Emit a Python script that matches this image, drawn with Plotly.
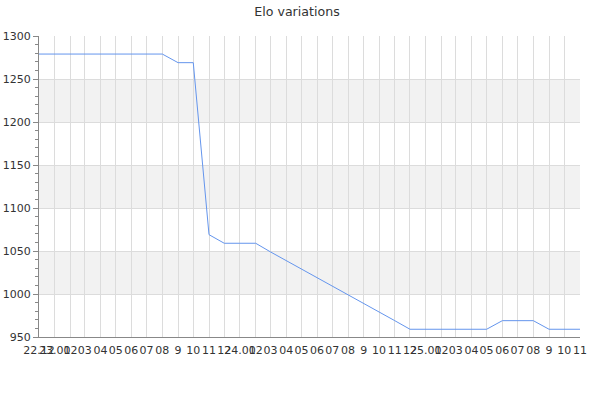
import plotly.graph_objects as go

months = ["2022-12-01", "2023-01-01", "2023-02-01", "2023-03-01", "2023-04-01", "2023-05-01",
          "2023-06-01", "2023-07-01", "2023-08-01", "2023-09-01", "2023-10-01", "2023-11-01",
          "2023-12-01", "2024-01-01", "2024-02-01", "2024-03-01", "2024-04-01", "2024-05-01",
          "2024-06-01", "2024-07-01", "2024-08-01", "2024-09-01", "2024-10-01", "2024-11-01",
          "2024-12-01", "2025-01-01", "2025-02-01", "2025-03-01", "2025-04-01", "2025-05-01",
          "2025-06-01", "2025-07-01", "2025-08-01", "2025-09-01", "2025-10-01", "2025-11-01"]
tick_labels = ["22.12", "23.01", "02", "03", "04", "05", "06", "07", "08", "9", "10", "11",
               "12", "24.01", "02", "03", "04", "05", "06", "07", "08", "9", "10", "11",
               "12", "25.01", "02", "03", "04", "05", "06", "07", "08", "9", "10", "11"]
elo = [1279, 1279, 1279, 1279, 1279, 1279, 1279, 1279, 1279, 1269, 1269, 1069,
       1059, 1059, 1059, 1049, 1039, 1029, 1019, 1009, 999, 989, 979, 969,
       959, 959, 959, 959, 959, 959, 969, 969, 969, 959, 959, 959]
band_ranges = [(1000, 1050), (1100, 1150), (1200, 1250)]

fig = go.Figure()
fig.add_trace(go.Scatter(x=months, y=elo, mode="lines",
                         line=dict(color="#6495ED", width=1), hoverinfo="x+y"))

for lo, hi in band_ranges:
    fig.add_shape(type="rect", xref="paper", yref="y", x0=0, x1=1, y0=lo, y1=hi,
                  fillcolor="#f2f2f2", line_width=0, layer="below")

fig.update_layout(
    width=600, height=400,
    margin=dict(l=39, r=20, t=36, b=63, autoexpand=False),
    paper_bgcolor="white", plot_bgcolor="white",
    showlegend=False,
    title=dict(text="Elo variations", x=297 / 600, xanchor="center", xref="container",
               y=0.97, yref="container", yanchor="middle",
               font=dict(family="DejaVu Sans", size=12.6, color="#333")),
    font=dict(family="DejaVu Sans", size=11, color="#333"),
    xaxis=dict(
        range=[months[0], months[-1]], automargin=False,
        tickmode="array", tickvals=months, ticktext=tick_labels, tickangle=0,
        showgrid=True, gridcolor="#dcdcdc", gridwidth=1,
        showline=True, linecolor="#888", linewidth=1,
        ticks="", zeroline=False, ticklabelstandoff=3,
        tickfont=dict(family="DejaVu Sans", size=11, color="#333"),
    ),
    yaxis=dict(
        range=[950, 1300], tickmode="linear", tick0=950, dtick=50, automargin=False,
        showgrid=True, gridcolor="#dcdcdc", gridwidth=1,
        showline=True, linecolor="#888", linewidth=1,
        ticks="outside", ticklen=5, tickcolor="#888",
        minor=dict(ticks="outside", dtick=10, ticklen=3, tickcolor="#888", showgrid=False),
        zeroline=False,
        tickfont=dict(family="DejaVu Sans", size=11, color="#333"),
    ),
)

fig.write_html("out.html",
               config={"displayModeBar": False},
               post_script="document.body.style.margin='0';document.body.style.padding='0';")
